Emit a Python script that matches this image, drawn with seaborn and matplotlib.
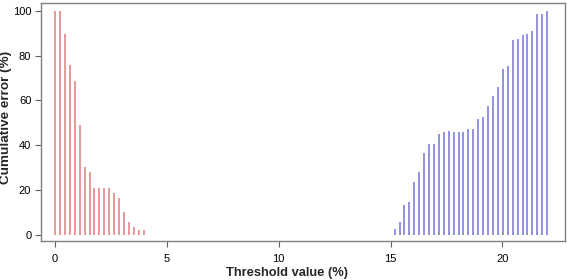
import numpy as np
import pandas as pd
import matplotlib
matplotlib.use("Agg")
import matplotlib.pyplot as plt
import seaborn as sns

# threshold values (%) and cumulative error (%)
low_threshold = [0.00, 0.22, 0.44, 0.66, 0.88, 1.10, 1.32, 1.54, 1.76, 1.98,
                 2.20, 2.42, 2.64, 2.86, 3.08, 3.30, 3.52, 3.74, 3.96]
low_error = [100, 100, 89.6, 76, 68.8, 49, 30.3, 27.9, 20.7, 21,
             20.7, 21, 18.6, 16.4, 10.2, 5.9, 3.3, 2.1, 2.1]

high_threshold = [15.18, 15.40, 15.62, 15.84, 16.06, 16.28, 16.50, 16.72,
                  16.94, 17.16, 17.38, 17.60, 17.82, 18.04, 18.26, 18.48,
                  18.70, 18.92, 19.14, 19.36, 19.58, 19.80, 20.02, 20.24,
                  20.46, 20.68, 20.90, 21.12, 21.34, 21.56, 21.78, 22.00]
high_error = [2.6, 5.6, 13.4, 14.7, 23.4, 27.9, 36.6, 40.5, 40.5, 44.9,
              45.9, 46.2, 45.9, 45.9, 45.9, 47.3, 47.3, 51.8, 52.7, 57.5,
              62, 65.9, 74.2, 75.5, 86.8, 87.5, 89.3, 89.8, 91.1, 98.8,
              98.8, 100]

x_ticks = [0, 5, 10, 15, 20]
y_ticks = [0, 20, 40, 60, 80, 100]

sns.set_theme(style="ticks")
plt.rcParams['font.family'] = ['Liberation Sans', 'DejaVu Sans']

df_low = pd.DataFrame({"threshold": low_threshold, "error": low_error})
df_high = pd.DataFrame({"threshold": high_threshold, "error": high_error})

fig = plt.figure(figsize=(5.67, 2.8), dpi=100)
ax = fig.add_axes([0.0723, 0.139, 0.9242, 0.85])

ax.vlines(df_low.threshold, 0, df_low.error, color="#e07c7e", linewidth=1.1)
ax.vlines(df_high.threshold, 0, df_high.error, color="#7474d6", linewidth=1.1)

ax.set_xlim(-0.63, 22.8)
ax.set_ylim(-2.8, 103.5)
ax.set_xticks(x_ticks)
ax.set_yticks(y_ticks)
ax.tick_params(axis="both", labelsize=8, length=4, width=0.8, color="#606060",
               labelcolor="black")
ax.tick_params(axis="x", pad=5)
ax.tick_params(axis="y", pad=3)
for s in ax.spines.values():
    s.set_visible(True)
    s.set_color("#808080")
    s.set_linewidth(1.0)

ax.set_xlabel("Threshold value (%)", fontsize=9.3, fontweight="bold", va="center")
ax.set_ylabel("Cumulative error (%)", fontsize=9.7, fontweight="bold", va="center")
ax.xaxis.set_label_coords(287 / 567, 1 - 273 / 280, transform=fig.transFigure)
ax.yaxis.set_label_coords(6.5 / 567, 1 - 117 / 280, transform=fig.transFigure)

fig.savefig("out.png", dpi=100)
